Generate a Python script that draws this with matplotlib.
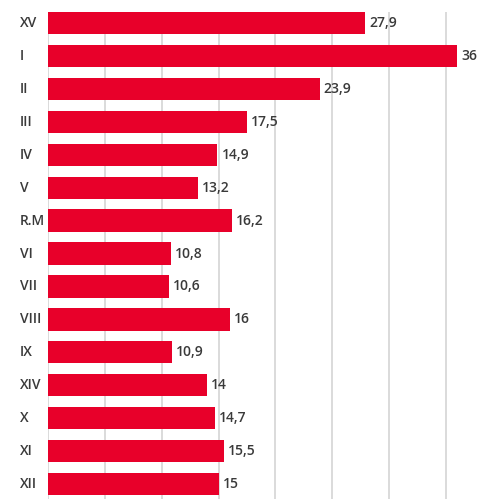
import numpy as np
import matplotlib.pyplot as plt
import matplotlib.transforms as mtransforms

plt.rcParams['font.family'] = ['Open Sans', 'DejaVu Sans']

regions = ['XV', 'I', 'II', 'III', 'IV', 'V', 'R.M', 'VI', 'VII', 'VIII',
           'IX', 'XIV', 'X', 'XI', 'XII']
values = [27.9, 36, 23.9, 17.5, 14.9, 13.2, 16.2, 10.8, 10.6, 16,
          10.9, 14, 14.7, 15.5, 15]
value_labels = ['27,9', '36', '23,9', '17,5', '14,9', '13,2', '16,2', '10,8',
                '10,6', '16', '10,9', '14', '14,7', '15,5', '15']

red = '#e8002a'
txt = '#3a3a3a'
fs = 10

W, H = 481, 499
fig = plt.figure(figsize=(W / 100, H / 100), dpi=100)
ax = fig.add_axes([48 / W, 0, (480 - 48) / W, (499 - 12) / H])

pos = np.arange(len(regions))
ax.barh(pos, values, height=0.68, color=red, zorder=2)

for p, v, lab in zip(pos, values, value_labels):
    ax.annotate(lab, (v, p), xytext=(3, 0), textcoords='offset points',
                va='center', ha='left', fontsize=fs, color=txt,
                fontweight='semibold', annotation_clip=False)

trans = mtransforms.blended_transform_factory(fig.transFigure, ax.transData)
for p, r in zip(pos, regions):
    ax.text(20 / W, p, r, transform=trans, ha='left', va='center',
            fontsize=fs, color=txt, fontweight='semibold')

ax.set_xlim(0, 38)
ax.set_ylim(14.46, -0.34)
ax.set_xticks(np.arange(0, 40, 5))
ax.set_yticks([])
ax.tick_params(axis='x', length=0, labelbottom=False)
ax.grid(axis='x', color='#d4d4d4', linewidth=1.2, zorder=0)
for s in ax.spines.values():
    s.set_visible(False)

fig.savefig('out.png', dpi=100)
